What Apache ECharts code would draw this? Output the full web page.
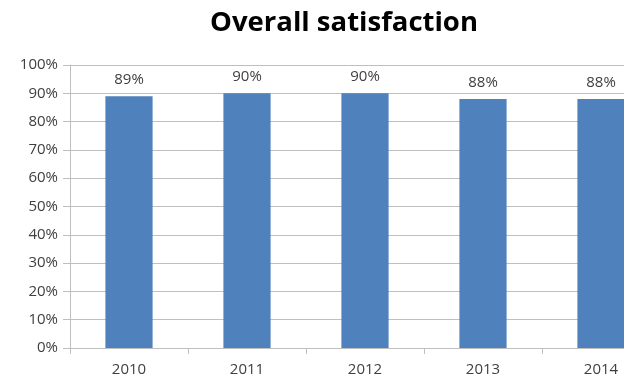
<!DOCTYPE html>
<html><head><meta charset="utf-8">
<script src="https://cdn.jsdelivr.net/npm/echarts@6/dist/echarts.min.js"></script>
<style>html,body{margin:0;padding:0;background:#fff}#c{width:624px;height:383px}</style>
</head><body><div id="c"></div>
<script>
const categories = ['2010','2011','2012','2013','2014'];
const values = [89, 90, 90, 88, 88];
const yTicks = [0,10,20,30,40,50,60,70,80,90,100];
const title = 'Overall satisfaction';

const chart = echarts.init(document.getElementById('c'));
chart.setOption({
  animation: false,
  title: {text: title, left: 339, textAlign: 'center', top: 4,
    textStyle: {fontFamily: 'Open Sans', fontWeight: 'bold', fontSize: 27.5, color: '#000'}},
  grid: {left: 70, top: 65, height: 283, width: 590, containLabel: false, outerBoundsMode: 'none'},
  xAxis: {type: 'category', data: categories,
    axisLine: {lineStyle: {color: '#bfbfbf'}},
    axisTick: {show: true, alignWithLabel: false, length: 6, lineStyle: {color: '#bfbfbf'}},
    axisLabel: {color: '#404040', fontFamily: 'Open Sans', fontSize: 15, margin: 14}},
  yAxis: {type: 'value', min: yTicks[0], max: yTicks[yTicks.length-1], interval: 10,
    axisLine: {show: true, lineStyle: {color: '#bfbfbf'}},
    axisTick: {show: true, length: 7, lineStyle: {color: '#bfbfbf'}},
    splitLine: {lineStyle: {color: '#bfbfbf'}},
    axisLabel: {color: '#404040', fontFamily: 'Open Sans', fontSize: 15, margin: 12,
      formatter: v => v + '%'}},
  series: [{type: 'bar', data: values, barWidth: '40%',
    itemStyle: {color: '#4f81bd'},
    label: {show: true, position: 'top', distance: 9, color: '#404040',
      fontFamily: 'Open Sans', fontSize: 15, formatter: p => p.value + '%'}}]
});
</script></body></html>
